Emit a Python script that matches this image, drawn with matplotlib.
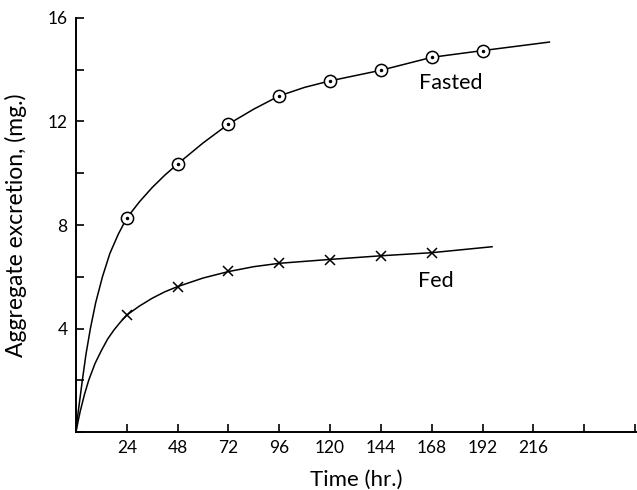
import numpy as np
import matplotlib
matplotlib.use("Agg")
import matplotlib.pyplot as plt
from matplotlib.ticker import MultipleLocator

plt.rcParams['font.family'] = ['Lato', 'DejaVu Sans']

# --- data ---
hours = [24, 48, 72, 96, 120, 144, 168, 192]
fasted = [8.27, 10.36, 11.9, 12.99, 13.57, 13.98, 14.48, 14.74]
fed_hours = [24, 48, 72, 96, 120, 144, 168]
fed = [4.52, 5.62, 6.22, 6.54, 6.65, 6.81, 6.93]

# smooth curves drawn through the points
fasted_curve_x = [0, 0.6, 1.4, 3.0, 4.7, 6.8, 9.3, 12.5, 16, 20, 24, 30, 36, 42, 48,
                  60, 72, 84, 96, 108, 120, 144, 168, 192, 223.6]
fasted_curve_y = [0, 0.5, 1, 2, 3, 4, 5, 6, 6.9, 7.65, 8.27, 8.9, 9.45, 9.93, 10.36,
                  11.17, 11.9, 12.48, 12.99, 13.32, 13.57, 13.98, 14.48, 14.74, 15.07]
fed_curve_x = [0, 1, 2, 4, 6, 9, 12, 15, 18, 21, 24, 30, 36, 42, 48,
               60, 72, 84, 96, 120, 144, 168, 196.5]
fed_curve_y = [0, 0.42, 0.8, 1.45, 2.0, 2.65, 3.15, 3.6, 3.95, 4.25, 4.52, 4.87, 5.17, 5.42, 5.62,
               5.95, 6.2, 6.39, 6.52, 6.67, 6.81, 6.93, 7.16]

x_ticks = [24, 48, 72, 96, 120, 144, 168, 192, 216, 240, 264]
x_labels = ['24', '48', '72', '96', '120', '144', '168', '192', '216', '', '']

fig = plt.figure(figsize=(6.37, 4.9), dpi=100)
ax = fig.add_axes([76 / 637, 58 / 490, 560 / 637, 414 / 490])

ax.plot(fasted_curve_x, fasted_curve_y, color='black', lw=1.1, solid_joinstyle='round')
ax.plot(fed_curve_x, fed_curve_y, color='black', lw=1.1, solid_joinstyle='round')

# circles with a dot in the middle
ax.plot(hours, fasted, ls='none', marker='o', ms=8.8, mfc='white', mec='black', mew=1.1)
ax.plot(hours, fasted, ls='none', marker='o', ms=1.5, mfc='black', mec='black')
ax.plot(fed_hours, fed, ls='none', marker='x', ms=7.5, mec='black', mew=1.1)

ax.text(177, 13.5, 'Fasted', fontsize=15.5, ha='center', va='center')
ax.text(170, 5.84, 'Fed', fontsize=15.5, ha='center', va='center')

ax.set_xlim(0, 264.5)
ax.set_ylim(0, 16)
ax.set_xticks(x_ticks)
ax.set_xticklabels(x_labels)
ax.set_yticks([4, 8, 12, 16])
ax.yaxis.set_minor_locator(MultipleLocator(2))
ax.tick_params(axis='both', which='both', direction='in', length=6, width=1.2,
               labelsize=12.5, pad=6)
ax.tick_params(axis='y', which='minor', length=6)

for side in ['top', 'right']:
    ax.spines[side].set_visible(False)
for side in ['left', 'bottom']:
    ax.spines[side].set_linewidth(1.4)

ax.set_xlabel('Time (hr.)', fontsize=16, labelpad=10)
ax.set_ylabel('Aggregate excretion, (mg.)', fontsize=16.5, labelpad=15)

plt.savefig('out.png', dpi=100)
